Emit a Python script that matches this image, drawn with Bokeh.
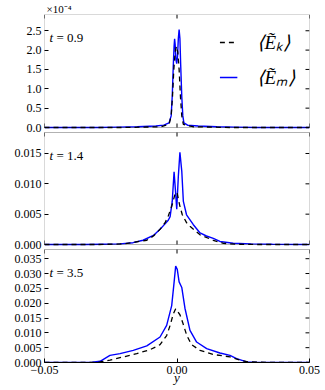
from bokeh.plotting import figure
from bokeh.models import FixedTicker, Label, Legend, LegendItem, Range1d, BoxAnnotation
from bokeh.embed import file_html
from bokeh.resources import INLINE

# ---------------- data ----------------
# panel 1 (t = 0.9), values in units of 1e-4
y_em_09 = [-0.05, -0.03, -0.022, -0.015, -0.008, -0.005, -0.003, -0.0022, -0.0018, -0.0014,
           -0.0011, -0.0009, -0.0007, -0.0004, -0.0001, 0.0002, 0.0005, 0.0008, 0.0011,
           0.0014, 0.0018, 0.0022, 0.0026, 0.004, 0.008, 0.015, 0.022, 0.03, 0.05]
em_09 = [0.0, 0.0, 0.01, 0.02, 0.04, 0.06, 0.12, 0.3, 0.8, 1.6,
         2.1, 2.29, 2.15, 1.75, 1.65, 1.85, 2.3, 2.53, 2.3,
         1.6, 0.8, 0.3, 0.12, 0.06, 0.04, 0.02, 0.01, 0.0, 0.0]
y_ek_09 = [-0.05, -0.02, -0.006, -0.003, -0.0022, -0.0017, -0.0012, -0.0007, -0.0002,
           0.0003, 0.0008, 0.0013, 0.0018, 0.0024, 0.006, 0.02, 0.05]
ek_09 = [0.0, 0.0, 0.02, 0.08, 0.3, 0.8, 1.5, 1.95, 2.1,
         1.95, 1.5, 0.8, 0.3, 0.08, 0.02, 0.0, 0.0]

# panel 2 (t = 1.4)
y_em_14 = [-0.05, -0.035, -0.028, -0.0215, -0.0166, -0.0128, -0.0089, -0.0064, -0.0045,
           -0.0033, -0.0026, -0.0018, -0.0011, -0.0006, -0.0001, 0.0005, 0.0011, 0.0018,
           0.0024, 0.0036, 0.0061, 0.0087, 0.0111, 0.0137, 0.0162, 0.0212, 0.028, 0.036, 0.05]
em_14 = [0.0, 0.0, 0.00005, 0.0001, 0.0003, 0.0007, 0.0015, 0.0025, 0.0034,
         0.0040, 0.0046, 0.0071, 0.0120, 0.0090, 0.0058, 0.0112, 0.0152, 0.0121,
         0.0071, 0.0049, 0.0033, 0.0019, 0.0014, 0.0010, 0.0005, 0.0002, 0.0001, 0.00005, 0.0]
y_ek_14 = [-0.05, -0.03, -0.02, -0.0114, -0.0089, -0.0064, -0.0045, -0.0033, -0.002, -0.0008,
           0.0, 0.0011, 0.002, 0.0036, 0.0049, 0.0087, 0.0137, 0.0175, 0.022, 0.03, 0.05]
ek_14 = [0.0, 0.0, 0.0001, 0.0007, 0.0014, 0.0025, 0.0036, 0.0047, 0.0063, 0.0082,
         0.0086, 0.0063, 0.0049, 0.0036, 0.0030, 0.0016, 0.0007, 0.0002, 0.00005, 0.0, 0.0]

# panel 3 (t = 3.5)
y_em_35 = [-0.05, -0.04, -0.032, -0.029, -0.027, -0.0253, -0.0215, -0.0165, -0.0114, -0.0064,
           -0.0039, -0.002, -0.0011, -0.0005, 0.0001, 0.0008, 0.0018, 0.003, 0.0049, 0.0074,
           0.0112, 0.0162, 0.02, 0.0225, 0.0263, 0.03, 0.04, 0.05]
em_35 = [0.0, 0.00005, 0.0001, 0.0004, 0.0015, 0.0024, 0.0030, 0.0041, 0.0056, 0.0086,
         0.0125, 0.0192, 0.0270, 0.0325, 0.0314, 0.0272, 0.0253, 0.0183, 0.0108, 0.0069,
         0.0047, 0.0032, 0.0024, 0.0013, 0.0002, 0.0001, 0.00005, 0.0]
y_ek_35 = [-0.05, -0.032, -0.029, -0.0253, -0.0202, -0.0152, -0.0102, -0.0064, -0.0039, -0.0026,
           -0.0014, -0.0005, 0.0011, 0.0021, 0.0037, 0.0055, 0.0087, 0.0137, 0.02, 0.0238,
           0.027, 0.035, 0.05]
ek_35 = [0.0, 0.0, 0.0002, 0.0008, 0.0019, 0.0030, 0.0043, 0.0060, 0.0091, 0.0125,
         0.0164, 0.0181, 0.0161, 0.0136, 0.0091, 0.0060, 0.0041, 0.0027, 0.0019, 0.0008,
         0.0002, 0.0, 0.0]

times = ["0.9", "1.4", "3.5"]
y_tops = [2.92, 0.01846, 0.0381]
y_ticks = [[0.0, 0.5, 1.0, 1.5, 2.0, 2.5],
           [0.0, 0.005, 0.010, 0.015],
           [0.0, 0.005, 0.010, 0.015, 0.020, 0.025, 0.030, 0.035]]
y_tick_labels = [["0.0", "0.5", "1.0", "1.5", "2.0", "2.5"],
                 ["0.000", "0.005", "0.010", "0.015"],
                 ["0.000", "0.005", "0.010", "0.015", "0.020", "0.025", "0.030", "0.035"]]
x_ticks = [-0.05, 0.0, 0.05]
x_tick_labels = ["\u22120.05", "0.00", "0.05"]
x_lim = (-0.05, 0.05)
x_label = "y"
offset_text = "\u00d710\u207b\u2074"
legend_labels = ["\u27e8\u1ebc\u2096\u27e9", "\u27e8\u1ebc\u2098\u27e9"]

# ---------------- layout (pixels) ----------------
FONT = "Liberation Serif"
W, H = 325, 390
FRAME_W = 265
FRAME_H = 348
bands = [(0, 113), (118, 230), (235, 348)]   # panel top/bottom, px below frame top
TICK = 4

p = figure(width=W, height=H, output_backend="svg", toolbar_location=None,
           x_range=Range1d(*x_lim), y_range=Range1d(0, FRAME_H),
           min_border_left=44, min_border_right=16, min_border_top=14, min_border_bottom=28,
           background_fill_color="white", border_fill_color="white")
p.xgrid.visible = False
p.ygrid.visible = False
p.outline_line_alpha = 0

# multiplier text of the top panel, as a left-aligned title
p.title.text = offset_text
p.title.align = "left"
p.title.offset = 2
p.title.standoff = 0
p.title.text_font = FONT
p.title.text_font_style = "normal"
p.title.text_font_size = "11px"
p.title.text_color = "black"

dx = (x_lim[1] - x_lim[0]) / FRAME_W


def style_axis(ax):
    ax.major_tick_in = TICK
    ax.major_tick_out = 0
    ax.minor_tick_in = 0
    ax.minor_tick_out = 0
    ax.major_tick_line_color = "black"
    ax.major_label_text_font = FONT
    ax.major_label_text_font_size = "12px"
    ax.major_label_text_color = "black"
    ax.major_label_standoff = 3


ax = p.xaxis[0]
ax.ticker = FixedTicker(ticks=x_ticks)
ax.major_label_overrides = {t: s for t, s in zip(x_ticks, x_tick_labels)}
style_axis(ax)
ax.axis_line_color = "black"
ax.axis_label = x_label
ax.axis_label_text_font = FONT
ax.axis_label_text_font_style = "italic"
ax.axis_label_text_font_size = "13px"
ax.axis_label_text_color = "black"
ax.axis_label_standoff = -7

series = [(y_em_09, em_09, y_ek_09, ek_09),
          (y_em_14, em_14, y_ek_14, ek_14),
          (y_em_35, em_35, y_ek_35, ek_35)]

left_ticks = []
left_labels = {}
renderers = []
for i, (ys_m, em, ys_k, ek) in enumerate(series):
    a, b = bands[i]
    ytop = y_tops[i]
    s = ytop / (b - a)
    name = "p%d" % i
    p.extra_y_ranges[name] = Range1d(-(FRAME_H - b) * s, ytop + a * s)

    rm = p.line(ys_m, em, line_color="#0000ff", line_width=1.4, y_range_name=name)
    rk = p.line(ys_k, ek, line_color="black", line_width=1.3, line_dash="5 4",
                y_range_name=name)
    renderers.append((rk, rm))

    # panel frame
    p.add_layout(BoxAnnotation(left=x_lim[0], right=x_lim[1], bottom=0, top=ytop,
                               fill_alpha=0, line_color="black", line_width=1,
                               y_range_name=name, level="overlay"))

    # left axis ticks: panel values mapped into the shared pixel axis
    yt = y_ticks[i]
    for v, lab in zip(yt, y_tick_labels[i]):
        pos = round((FRAME_H - b) + v / s, 6)
        left_ticks.append(pos)
        left_labels[pos] = lab

    # right ticks (inward)
    n = len(yt)
    p.segment(x0=[x_lim[1] - TICK * dx] * n, x1=[x_lim[1]] * n, y0=yt, y1=yt,
              line_color="black", line_width=1, y_range_name=name)
    # x ticks on this panel's top and (for upper panels) bottom
    m = len(x_ticks)
    p.segment(x0=x_ticks, x1=x_ticks, y0=[ytop - TICK * s] * m, y1=[ytop] * m,
              line_color="black", line_width=1, y_range_name=name)
    if i < 2:
        p.segment(x0=x_ticks, x1=x_ticks, y0=[0] * m, y1=[TICK * s] * m,
                  line_color="black", line_width=1, y_range_name=name)

    # time label
    yl = FRAME_H - a - 23
    p.add_layout(Label(x=x_lim[0] + 5 * dx, y=yl, text="t",
                       text_font=FONT, text_font_style="italic", text_font_size="13px",
                       text_color="black", text_baseline="alphabetic"))
    p.add_layout(Label(x=x_lim[0] + 12 * dx, y=yl, text="= " + times[i],
                       text_font=FONT, text_font_size="13px",
                       text_color="black", text_baseline="alphabetic"))

ay = p.yaxis[0]
ay.ticker = FixedTicker(ticks=left_ticks)
ay.major_label_overrides = left_labels
style_axis(ay)
ay.axis_line_alpha = 0

# legend (top panel)
rk0, rm0 = renderers[0]
legend = Legend(items=[LegendItem(label=legend_labels[0], renderers=[rk0]),
                       LegendItem(label=legend_labels[1], renderers=[rm0])],
                location="top_right")
legend.margin = 6
legend.padding = 8
legend.spacing = 7
legend.glyph_width = 18
legend.glyph_height = 28
legend.label_height = 28
legend.label_standoff = 20
legend.label_text_font = FONT
legend.label_text_font_style = "italic"
legend.label_text_font_size = "19px"
legend.label_text_color = "black"
legend.border_line_alpha = 0
legend.background_fill_alpha = 0
p.add_layout(legend)

open("out.html", "w").write(file_html(p, INLINE))
